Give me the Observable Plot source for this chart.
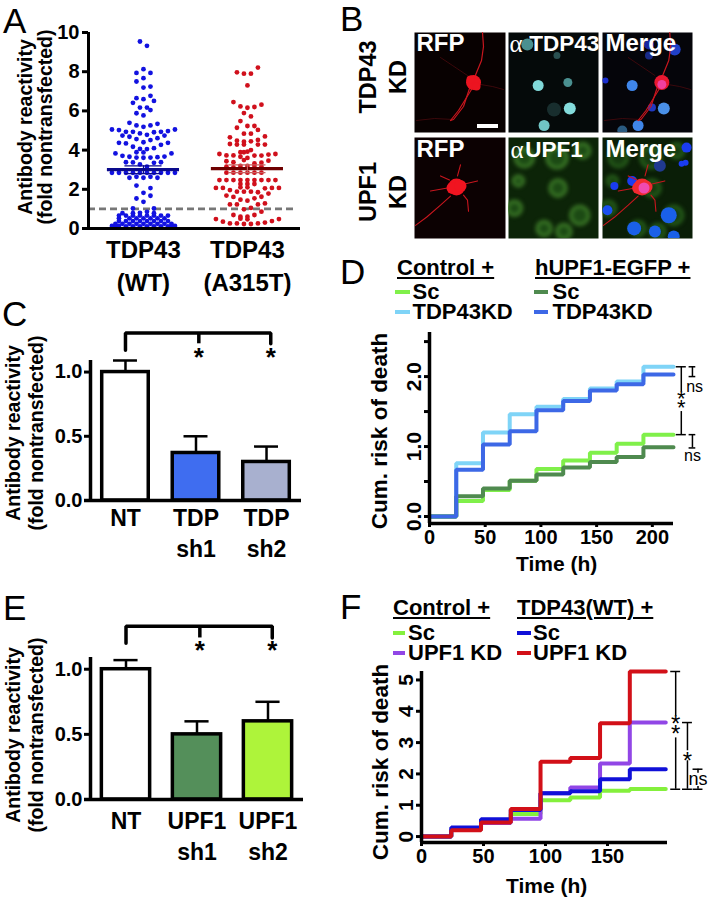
<!DOCTYPE html>
<html><head><meta charset="utf-8">
<script src="https://cdn.jsdelivr.net/npm/d3@7"></script>
<script src="https://cdn.jsdelivr.net/npm/@observablehq/plot@0.6"></script>
<style>
html,body{margin:0;padding:0;background:#fff}
#root{position:relative;width:709px;height:900px;overflow:hidden;font-family:"Liberation Sans",Arial,sans-serif;color:#000}
.t{position:absolute;white-space:pre;line-height:1}
</style></head><body><div id="root"></div>
<script>
// ---------- Panel A ----------
const wtOffsets=[-1,1,0,-2,2,0,-2,0,2,2,-2,0,3,-3,-1,1,2,-2,0,-4,4,-2,2,0,-9,-7,-5,-3,-1,3,5,7,9,-6,-4,1,6,-2,2,4,0,-7,-5,7,5,-3,3,-1,1,-2,0,-8,8,-6,-4,-2,0,2,4,6,-5,-3,3,5,-1,1,
-9,-7,-5,-3,-1,1,3,5,7,9,-4,-2,0,2,4,-2,2,0,2,-2,0,-3,3,-1,1,
-9,-8,-7,-5,-3,-1,1,3,5,7,8,9,-8,-6,-4,-2,0,2,4,6,8,-7,-5,-3,-1,1,3,5,7,-7,-4,-2,0,2,4,6,-7,-5,-3,3,5,7,-6,-3,-1,1,3];
const wtValues=[9.54,9.32,8.13,7.94,7.94,7.67,7.5,7.19,7.24,6.77,6.65,6.6,6.51,6.41,6.17,6.17,6.04,5.88,5.77,5.39,5.34,5.26,5.26,5.19,5.05,5.02,4.93,4.93,4.85,4.91,4.93,4.97,5.05,4.74,4.68,4.78,4.74,4.56,4.51,4.61,4.4,4.37,4.34,4.37,4.27,4.17,4.1,4.06,4.05,3.89,3.88,3.83,3.83,3.71,3.66,3.62,3.61,3.62,3.64,3.67,3.38,3.37,3.35,3.38,3.27,3.15,
2.84,2.84,2.84,2.84,2.84,2.84,2.84,2.84,2.84,2.84,2.59,2.64,2.59,2.64,2.59,2.19,2.06,1.82,1.67,1.53,1.36,1.02,1.02,.8,.85,
.13,.13,.13,.11,.11,.11,.11,.11,.11,.11,.13,.13,.24,.24,.24,.24,.24,.24,.24,.24,.24,.38,.38,.38,.38,.38,.38,.38,.38,.52,.52,.52,.52,.52,.52,.52,.66,.66,.66,.66,.66,.66,.78,.78,.66,.66,.78];
const mutOffsets=[3,-3,-1,1,0,-4,4,-2,0,2,-1,1,-2,0,2,-3,3,-1,1,-5,5,-3,-1,3,1,-5,5,-3,-1,3,1,0,-1,-2,-8,-6,-4,-2,0,2,4,6,8,-6,-4,-1,2,4,6,-6,-2,0,2,4,-4,-4,-2,0,2,4,-6,-8,-6,-4,-2,0,2,4,6,8,-2,0,2,0,-9,-7,-5,-2,5,7,9,-3,-1,1,3,6,-6,-4,-2,0,2,4,-5,-3,-1,1,3,5,-4,-2,0,2,4,-2,0,-9,-7,-5,-3,-1,1,3,5,7,9];
const mutValues=[8.21,7.97,7.9,7.9,7.3,6.45,6.32,6.23,6.16,6.2,5.89,5.72,5.48,5.23,5.23,5.14,5.03,4.84,4.84,4.65,4.7,4.48,4.43,4.52,4.45,4.31,4.28,4.28,4.28,4.28,4,3.92,3.89,3.89,3.8,3.73,3.73,3.66,3.6,3.72,3.72,3.77,3.8,3.43,3.38,3.49,3.32,3.36,3.46,3.15,3.19,3.19,3.19,3.15,3.12,2.85,2.85,2.85,2.85,2.85,2.85,2.47,2.47,2.47,2.47,2.47,2.47,2.47,2.47,2.47,2.27,2.27,2.27,2.1,2.07,2.07,1.96,2.1,2.05,2.07,2.07,1.88,1.88,1.88,1.85,1.78,1.68,1.61,1.47,1.42,1.54,1.62,1.23,1.23,.98,1.05,1.23,1.28,.69,.6,.6,.69,.86,.5,.47,.48,.35,.26,.26,.23,.23,.26,.3,.38,.48];
const groupLabels=["TDP43\n(WT)","TDP43\n(A315T)"];
const groupCenters=[0,29.7];
const means=[3.0,3.05], semLow=[2.8,2.85], semHigh=[3.2,3.25];

// ---------- Panels C, E ----------
const barPos=[1,2,3];
const cLabels=["NT","TDP\nsh1","TDP\nsh2"], cMeans=[1,.37,.30], cErr=[1.09,.50,.42], cFill=["#ffffff","#3f6df0","#a8b0cf"];
const eLabels=["NT","UPF1\nsh1","UPF1\nsh2"], eMeans=[1,.5,.6], eErr=[1.07,.60,.75], eFill=["#ffffff","#548f5a","#aef43a"];

// ---------- Panel D ----------
const dTimes=[0,24,48,72,96,120,144,168,192,219];
const dCtrlSc=[0,.22,.38,.51,.68,.80,.91,1.04,1.17,1.17];
const dCtrlKd=[0,.76,1.2,1.46,1.57,1.68,1.83,1.93,2.14,2.14];
const dHupfSc=[0,.29,.40,.51,.60,.70,.78,.85,.99,.99];
const dHupfKd=[0,.67,1.03,1.22,1.52,1.65,1.80,1.89,2.03,2.03];

// ---------- Panel F ----------
const fTimes=[0,24,48,72,96,120,144,168,197];
const fCtrlSc=[0,.22,.45,.72,1.16,1.25,1.46,1.52,1.52];
const fCtrlKd=[0,.22,.43,.57,1.38,1.57,2.33,3.64,3.64];
const fTdpSc=[0,.29,.55,.85,1.38,1.45,1.83,2.15,2.15];
const fTdpKd=[0,.20,.45,.88,2.39,2.51,3.62,5.27,5.27];

// ---------- Panel B (micrograph sketch, local cell units) ----------
const neuronTop=[[[60,45],[67,28],[69,14],[68,0]],[[55,56],[49,74],[39,87],[36,88]],[[57,57],[44,78],[36,88]]];
const neuronTopFaint=[[[66,52],[78,54],[89,57]],[[53,43],[38,33],[26,25]],[[39,87],[20,86],[2,88]]];
const neuronBot=[[[36,58],[26,67],[12,79],[1,87]],[[49,57],[53,62],[54,73]],[[50,46],[63,43]],[[43,38],[46,27]],[[33,50],[16,53]],[[35,42],[26,38]]];
const tdpX=[30,60,62,36,19,49,46], tdpY=[53,50,76,93,12,23,77], tdpR=[5.5,4.5,6,5.5,6,3.5,7];
const tdpFill=["#80d8d8","#4a9090","#84dcdc","#70c4c4","#4a9090","#2a5050","#182e2e"];
const mTopX=[30,62,36,73,47,50,3,47,20], mTopY=[53,76,93,17,23,75,48,12,98], mTopR=[5.5,6,5.5,6,4,4,3,5,5];
const mTopFill=["#3f86ea","#4a90e8","#3f86ea","#2040c8","#182a88","#2038c0","#1c30d0","#1828a0","#2a5a80"];
const cellX=[16,49,50,72,36,56,6,75,10], cellY=[20,20,50,77,90,93,70,13,43], cellR=[9,10,8,9,7,7,7,7,5];
const bluX=[85,80,84,30,12,5,67,32,53,72,58], bluY=[10,26,25,43,48,72,77,90,93,98,28], bluR=[5,3,3,5,4,5,8,7,6,6,6];
const bluFill=["#1a3cf0","#1a3cf0","#1a3cf0","#1a3cf0","#1a3cf0","#1a50f0","#1a60e8","#1a60e8","#1a60e8","#1a60e8","#203a90"];

// ---------- helpers ----------
const root=document.getElementById("root");
const FONT='"Liberation Sans",Arial,sans-serif';
function place(box,frame,opts){
  const p=Plot.plot({width:box.w,height:box.h,
    marginLeft:frame.l-box.x,marginRight:box.x+box.w-frame.r,
    marginTop:frame.t-box.y,marginBottom:box.y+box.h-frame.b,
    style:{fontFamily:FONT,fontWeight:700,background:"transparent",overflow:"visible",color:"#000"},
    ...opts});
  p.style.position="absolute";p.style.left=box.x+"px";p.style.top=box.y+"px";p.style.maxWidth="none";
  root.append(p);return p;
}
function txt(s,x,cy,size,o={}){
  const d=document.createElement("div");d.className="t";d.textContent=s;
  d.style.left=x+"px";d.style.top=(cy-size/2)+"px";d.style.fontSize=size+"px";
  d.style.fontWeight=o.w??700;
  if(o.lh)d.style.lineHeight=o.lh+"px";
  if(o.u){d.style.textDecoration="underline";d.style.textUnderlineOffset="2px";d.style.textDecorationThickness="2px";}
  root.append(d);return d;
}
function rot(s,cx,cy,size,lh){
  const d=document.createElement("div");d.className="t";d.textContent=s;
  d.style.left=cx+"px";d.style.top=cy+"px";d.style.fontSize=size+"px";d.style.fontWeight=700;
  d.style.textAlign="center";d.style.lineHeight=lh+"px";
  d.style.transform="translate(-50%,-50%) rotate(-90deg)";
  root.append(d);
}
function swatch(x,y,w,c){
  const d=document.createElement("div");
  d.style.cssText=`position:absolute;left:${x}px;top:${y-2}px;width:${w}px;height:4px;background:${c}`;
  root.append(d);
}
for(const [s,x,cy] of [["A",3,20],["B",340,18],["C",2,313],["D",340,271],["E",3,607],["F",340,606]]) txt(s,x,cy,35,{w:400});

// ---------- Panel A ----------
const zipDots=(off,val,c)=>off.map((h,i)=>({x:c+h,y:val[i]}));
place({x:0,y:0,w:340,h:295},{l:88,t:32,r:300,b:228},{
  x:{domain:[-15.7,44.86]},y:{domain:[0,10]},
  marks:[
    Plot.ruleY([1],{stroke:"#777",strokeWidth:2.6,strokeDasharray:"7 4",insetRight:3}),
    Plot.dot(zipDots(wtOffsets,wtValues,groupCenters[0]),{x:"x",y:"y",r:2.4,fill:"#1212e0"}),
    Plot.dot(zipDots(mutOffsets,mutValues,groupCenters[1]),{x:"x",y:"y",r:2.4,fill:"#d0101c"}),
    Plot.ruleY(means,{x1:(d,i)=>groupCenters[i]-10.3,x2:(d,i)=>groupCenters[i]+10.3,stroke:(d,i)=>["#0a0a8c","#6e0000"][i],strokeWidth:3.2}),
    Plot.ruleY(semLow,{x1:(d,i)=>groupCenters[i]-5.3,x2:(d,i)=>groupCenters[i]+5.3,stroke:(d,i)=>["#0a0a8c","#c86060"][i],strokeWidth:1.2}),
    Plot.ruleY(semHigh,{x1:(d,i)=>groupCenters[i]-5.3,x2:(d,i)=>groupCenters[i]+5.3,stroke:(d,i)=>["#0a0a8c","#c86060"][i],strokeWidth:1.2}),
    Plot.ruleX(means,{x:(d,i)=>groupCenters[i],y1:semLow,y2:semHigh,stroke:(d,i)=>["#0a0a8c","#c86060"][i],strokeWidth:1.2}),
    Plot.ruleX([-15.7],{strokeWidth:3,stroke:"#000"}),
    Plot.ruleY([0],{strokeWidth:3,stroke:"#000",insetLeft:-3}),
    Plot.axisY({ticks:[0,2,4,6,8,10],tickSize:6,strokeWidth:3,fontSize:20,tickPadding:3,label:null}),
    Plot.axisX({ticks:groupCenters,tickFormat:(d,i)=>groupLabels[i],tickSize:0,fontSize:24,lineHeight:1.38,tickPadding:6,label:null})
  ]});
rot("Antibody reactivity\n(fold nontransfected)",35,127,19.5,20);

// ---------- Panels C / E ----------
function bars(box,frame,dom,labels,mv,ev,fills,br,lbPad){
  place(box,frame,{
    x:{domain:dom},y:{domain:[0,br.top]},
    marks:[
      Plot.rectY(barPos,{x1:d=>d-br.hw,x2:d=>d+br.hw,y1:0,y2:(d,i)=>mv[i],fill:(d,i)=>fills[i],stroke:"#000",strokeWidth:3.5}),
      Plot.ruleX(barPos,{x:d=>d,y1:(d,i)=>mv[i],y2:(d,i)=>ev[i],stroke:"#000",strokeWidth:2.5}),
      Plot.ruleY(ev,{x1:(d,i)=>barPos[i]-.17,x2:(d,i)=>barPos[i]+.17,stroke:"#000",strokeWidth:2.5}),
      Plot.line(br.path,{x:d=>d[0],y:d=>d[1],stroke:"#000",strokeWidth:3.5,strokeLinejoin:"miter"}),
      Plot.ruleX([br.mid],{y1:br.leg,y2:br.y,stroke:"#000",strokeWidth:3.5}),
      Plot.text(br.stars,{x:d=>d,y:br.starY,text:()=>"*",fontSize:26,fill:"#000",dy:4}),
      Plot.ruleX([dom[0]],{stroke:"#000",strokeWidth:3.5}),
      Plot.ruleY([0],{stroke:"#000",strokeWidth:3.5,insetLeft:-6}),
      Plot.axisY({ticks:[0,.5,1],tickFormat:".1f",tickSize:6,strokeWidth:3,fontSize:20,tickPadding:2,label:null}),
      Plot.axisX({ticks:barPos,tickFormat:(d,i)=>labels[i],tickSize:0,fontSize:23,lineHeight:1.33,tickPadding:lbPad,label:null})
    ]});
}
bars({x:50,y:325,w:280,h:245},{l:90,t:360,r:301,b:500},[.504,3.496],cLabels,cMeans,cErr,cFill,
 {top:1.09,hw:.33,path:[[1,1.17],[1,1.305],[3.06,1.305],[3.06,1.22]],mid:2.04,leg:1.22,y:1.305,stars:[2.04,3.06],starY:1.14},4);
rot("Antibody reactivity\n(fold nontransfected)",25,433,19.5,23);
bars({x:50,y:615,w:280,h:255},{l:90,t:657,r:303,b:799},[.5,3.5],eLabels,eMeans,eErr,eFill,
 {top:1.09,hw:.34,path:[[1,1.2],[1,1.33],[3.06,1.33],[3.06,1.24]],mid:2.04,leg:1.24,y:1.33,stars:[2.04,3.06],starY:1.17},8);
rot("Antibody reactivity\n(fold nontransfected)",25,735,19.5,23);

// ---------- Step curves ----------
const stepLine=(t,v,c,w)=>Plot.line(t.map((d,i)=>({t:d,v:v[i]})),{x:"t",y:"v",stroke:c,strokeWidth:w,curve:"step-after",strokeLinejoin:"miter"});
const seg=(x,a,b)=>Plot.ruleX([x],{y1:a,y2:b,stroke:"#000",strokeWidth:1.5});
const cap=(x,hw,y)=>Plot.ruleY([y],{x1:x-hw,x2:x+hw,stroke:"#000",strokeWidth:1.5});
const note=(s,x,y,size,dy=0,lh=1)=>Plot.text([s],{x:()=>x,y:()=>y,text:d=>d,fontSize:size,fontWeight:400,fill:"#000",dy,lineHeight:lh});

// ---------- Panel D ----------
place({x:395,y:325,w:314,h:230},{l:429,t:332,r:673,b:523},{
  x:{domain:[0,219]},y:{domain:[-.1,2.63]},
  marks:[
    stepLine(dTimes,dCtrlKd,"#7fd4f7",4),
    stepLine(dTimes,dCtrlSc,"#80f04a",4),
    stepLine(dTimes,dHupfSc,"#4f8a4f",4),
    stepLine(dTimes,dHupfKd,"#3d68e6",4),
    Plot.ruleX([0],{stroke:"#000",strokeWidth:3.5}),
    Plot.ruleY([-.1],{stroke:"#000",strokeWidth:3.5}),
    Plot.axisY({ticks:[0,.5,1,1.5,2,2.5],tickFormat:d=>Number.isInteger(d)?d.toFixed(1):"",tickRotate:-90,tickSize:5,strokeWidth:3,fontSize:21,tickPadding:4,label:null}),
    Plot.axisX({ticks:[0,50,100,150,200],tickSize:4,strokeWidth:3,fontSize:20,tickPadding:2,label:null}),
    seg(226,2.14,1.78),seg(226,1.5,1.17),cap(226,4.5,2.14),cap(226,4.5,1.17),
    seg(236,2.14,2.0),cap(236,3,2.14),cap(236,3,2.0),
    seg(236,1.17,.98),cap(236,3,1.17),cap(236,3,.98),
    note("*\n*",226,1.64,22,6,.4),
    note("ns",238,1.85,16),note("ns",236,.87,16)
  ]});
rot("Cum. risk of death",380,431,22.5,24);
txt("Time (h)",516,563,21);
txt("Control +",397,268,22,{u:1});
txt("hUPF1-EGFP +",535,268,22,{u:1});
swatch(395,292,15,"#80f04a");swatch(395,312,15,"#7fd4f7");
txt("Sc\nTDP43KD",412.5,293,22,{lh:19.5});
swatch(534,292,14,"#4f8a4f");swatch(534,312,14,"#3d68e6");
txt("Sc\nTDP43KD",552.5,293,22,{lh:19.5});

// ---------- Panel F ----------
place({x:395,y:665,w:314,h:210},{l:421,t:671,r:667,b:842},{
  x:{domain:[0,198.4]},y:{domain:[-.19,5.27]},
  marks:[
    stepLine(fTimes,fCtrlSc,"#84f03c",4),
    stepLine(fTimes,fCtrlKd,"#9146e6",4),
    stepLine(fTimes,fTdpSc,"#1010d8",4),
    stepLine(fTimes,fTdpKd,"#d21018",4),
    Plot.ruleX([0],{stroke:"#000",strokeWidth:3.5}),
    Plot.ruleY([-.19],{stroke:"#000",strokeWidth:3.5}),
    Plot.axisY({ticks:[0,1,2,3,4,5],tickFormat:d=>String(d),tickRotate:-90,tickSize:5,strokeWidth:3,fontSize:21,tickPadding:4,label:null}),
    Plot.axisX({ticks:[0,50,100,150],tickSize:4,strokeWidth:3,fontSize:20,tickPadding:2,label:null}),
    seg(205,5.27,3.85),seg(205,3.15,1.51),cap(205,4,5.27),cap(205,4,1.51),
    seg(214.5,3.64,2.74),seg(214.5,2.42,1.51),cap(214.5,4,3.64),cap(214.5,4,1.51),
    seg(223,2.15,2.02),seg(223,1.6,1.51),cap(223,4,2.15),cap(223,4,1.51),
    note("*\n*",205,3.48,24,6,.42),note("*",214.5,2.58,24,6),
    note("ns",223,1.83,18)
  ]});
rot("Cum. risk of death",381,762,22.5,24);
txt("Time (h)",506,885,21);
txt("Control +",393,608,22,{u:1});
txt("TDP43(WT) +",517,608,22,{u:1});
swatch(393,633,12,"#84f03c");swatch(393,653,12,"#9146e6");
txt("Sc\nUPF1 KD",408,634,22,{lh:19.5});
swatch(517,633,14,"#1010d8");swatch(517,653,14,"#d21018");
txt("Sc\nUPF1 KD",533,634,22,{lh:19.5});

// ---------- Panel B ----------
const lines=(paths,c,w,blur=.4)=>paths.map(p=>Plot.line(p,{x:d=>d[0],y:d=>d[1],stroke:c,strokeWidth:w,clip:true,imageFilter:`blur(${blur}px)`}));
const blobs=(X,Y,R,F,blur=.7)=>Plot.dot(X,{x:d=>d,y:(d,i)=>Y[i],r:(d,i)=>R[i],fill:(d,i)=>F[i],clip:true,imageFilter:`blur(${blur}px)`});
const one=(x,y,r,c,blur=.5)=>Plot.dot([0],{x:()=>x,y:()=>y,r,fill:c,clip:true,imageFilter:`blur(${blur}px)`});
const ctext=(s,x,y,size,fam)=>Plot.text([s],{x:()=>x,y:()=>y,text:d=>d,textAnchor:"start",fontSize:size,fill:"#fff",fontFamily:fam,fontWeight:fam?400:700});
function cell(x,y,w,h,bg,marks){
  place({x,y,w,h},{l:x,t:y,r:x+w,b:y+h},{
    x:{domain:[0,91],axis:null},y:{domain:[0,100],range:[0,h],axis:null},r:{type:"identity"},
    marks:[Plot.frame({fill:bg,stroke:null}),...marks]});
}
const greenCells=(dim)=>[Plot.dot(cellX,{x:d=>d,y:(d,i)=>cellY[i],r:(d,i)=>cellR[i],fill:dim?"#153a0f":"#1c4a14",stroke:dim?"#2f7020":"#4a9030",strokeWidth:2.5,clip:true,imageFilter:"blur(2px)"})];
const row1=[32,100], row2=[137,101];
cell(414,row1[0],91,row1[1],"#080101",[
  ...lines(neuronTopFaint,"#4a0a0e",.8),...lines(neuronTop,"#c8161e",1.2),
  one(59,50,7.5,"#ec1420"),one(56,47,4,"#ec1420"),one(62,54,4,"#ec1420"),
  Plot.rect([0],{x1:()=>63,x2:()=>84,y1:()=>92,y2:()=>96,fill:"#fff"}),
  ctext("RFP",2,11,24)]);
cell(508,row1[0],90,row1[1],"#050a0a",[
  blobs(tdpX,tdpY,tdpR,tdpFill),
  ctext("α",1,11,25,'"Liberation Serif",serif'),ctext("TDP43",21,11,22.5)]);
cell(602,row1[0],90,row1[1],"#05050a",[
  ...lines(neuronTopFaint,"#4a0a0e",.8),
  blobs(mTopX,mTopY,mTopR,mTopFill),
  ...lines(neuronTop,"#c8161e",1.2),
  one(60,50,7.5,"#e81830"),one(60,52,4.5,"#f040a0"),
  ctext("Merge",3,11,24)]);
cell(414,row2[0],91,row2[1],"#0c0102",[
  ...lines(neuronBot,"#c8161e",1.1),
  one(42,49,8.5,"#f01420"),one(38,50,6,"#f01420"),one(46,48,6,"#f01420"),
  ctext("RFP",2,12,24)]);
cell(508,row2[0],90,row2[1],"#0c2408",[
  ...greenCells(false),
  ctext("α",2,12,25,'"Liberation Serif",serif'),ctext("UPF1",17,12,22.5)]);
cell(602,row2[0],90,row2[1],"#0a1e07",[
  ...greenCells(true),
  blobs(bluX,bluY,bluR,bluFill),
  ...lines(neuronBot,"#c8161e",1.1),
  one(40,49,8.5,"#f02a30"),one(36,50,6,"#f02a30"),one(44,49,6.5,"#f02a30"),one(42,50,5.5,"#f04ab0"),
  ctext("Merge",3,12,24)]);
rot("TDP43\nKD",383,77,23.5,30);
rot("UPF1\nKD",383,192,23.5,30);
</script></body></html>
